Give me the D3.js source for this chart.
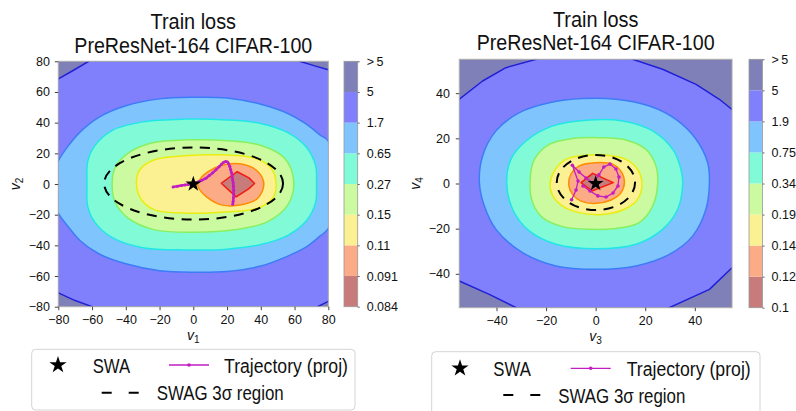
<!DOCTYPE html>
<html>
<head>
<meta charset="utf-8">
<script src="https://cdn.jsdelivr.net/npm/d3@7"></script>
<style>
    body { margin: 0; background: #fff; }
    text { font-family: "Liberation Sans", Arial, sans-serif; fill: #111; }
</style>
</head>
<body>
<div id="chart"></div>
<script>

// ---- data ----

// fill colours of the 8 loss bands, lowest -> highest, and the line colour of each level
var bandColors = ["#c77b7b", "#fbab86", "#fbf192", "#cbfaa0", "#80fad7", "#80c4fe", "#8080fd", "#8080b9"];
var lineColors = ["#f31a10", "#ff8c00", "#e8ee10", "#88f060", "#22e6e6", "#3d7cf7", "#2020d8"];

var leftLevelLabels = ["0.084", "0.091", "0.11", "0.15", "0.27", "0.65", "1.7", "5", ">\u20095"];
var rightLevelLabels = ["0.1", "0.12", "0.14", "0.19", "0.34", "0.75", "1.9", "5", ">\u20095"];

var leftTicks = [-80, -60, -40, -20, 0, 20, 40, 60, 80];
var rightTicks = [-40, -20, 0, 20, 40];

// contour lines, left panel (v1, v2)
var leftLine0091 = [[16.6,0.5],[26,8],[33,4],[36.3,0.3],[33,-3],[25.4,-8.4]];
var leftLine011 = [[2.5,0],[5,4.5],[9,8.3],[16.6,12.1],[28.4,13],[38.2,8.2],[41.8,0],[38.2,-9.3],[28.4,-13.6],[16.6,-13.6],[8,-8.5],[4,-4]];
var leftLine015 = [[-33.7,0],[-31.7,9.3],[-22.9,15.8],[-3.2,18.6],[16.6,19],[36.3,16.9],[46.1,10.3],[49.1,0],[47.1,-9.3],[38.2,-15.8],[16.6,-18.4],[-3.2,-19],[-22.9,-16.9],[-30.7,-10.3]];
var leftLine027 = [[-48.1,0],[-46.5,10.3],[-38.6,20.1],[-24.8,26.7],[-3.2,28.8],[20.5,28.2],[40.2,25.1],[54,16.9],[59.5,1.6],[56,-13.6],[44.1,-24.5],[24.4,-29.9],[0.8,-31.5],[-22.9,-29.9],[-38.6,-22.3],[-46.5,-11.4]];
var leftLine065 = [[-63,0],[-62.5,-15],[-58.3,-25],[-48,-35],[-30,-41.5],[-5,-43],[20,-42.5],[40,-39.5],[56,-33.5],[67,-24],[72.5,-12],[73,0],[72.5,12],[67,24],[56,33.5],[40,39.5],[20,41.8],[-5,42.3],[-30,40.5],[-48,35],[-58.3,25],[-62.5,15]];
var leftLine17 = [[0,56.5],[20,56],[40,52],[56,46],[67,39],[75,32],[80,28],[86,0],[80,-29],[75,-34],[67,-41],[56,-47],[40,-53.5],[20,-57],[0,-57.5],[-20,-56.5],[-40,-52],[-56,-45.5],[-67,-37],[-74,-28],[-80,-19],[-86,-2],[-80,15],[-74,25],[-67,34],[-56,43.5],[-40,51],[-20,55.5]];
var leftLine5 = [[-86,64],[-80,68.5],[-72,73.5],[-62,80],[-58,86],[60,86],[63,80],[72,77],[80,74.5],[86,72],[86,-74],[80,-76.5],[73.7,-80],[70,-86],[-58,-86],[-60,-80],[-70,-76],[-80,-71],[-86,-67]];

// contour lines, right panel (v3, v4)
var rightLine012 = [[-5.9,0.4],[-1.2,4.5],[7.1,0.4],[-1.5,-3.3]];
var rightLine014 = [[-10.9,-0.4],[-10,4.1],[-6.6,7.8],[0.1,9.2],[6.9,8.5],[10.2,5.5],[11.6,0.4],[10.2,-4.1],[6.2,-7.3],[0.1,-8.8],[-5.9,-7.8],[-9.3,-4.8]];
var rightLine019 = [[-18.4,-0.4],[-16.7,5.5],[-12,10.7],[-3.9,12.5],[4.2,12.5],[12.2,10.7],[16.9,6.3],[18.7,-0.4],[16.9,-7],[11.6,-11.4],[2.8,-13.7],[-6.6,-12.9],[-13.3,-10],[-17.3,-5.5]];
var rightLine034 = [[-26.5,0.4],[-24.7,10.7],[-18.7,17.3],[-9.3,19.9],[1.5,20.3],[12.2,19.3],[20.3,15.1],[24.3,7.8],[25,-0.4],[23,-10],[17.6,-17.3],[8.2,-19.9],[-2.6,-20.3],[-13.3,-19.1],[-21.4,-15.1],[-25.4,-8.5]];
var rightLine075 = [[-35.9,0.4],[-34.2,10.7],[-28.1,18.8],[-17.3,25.5],[-2.6,28.1],[10.9,27.7],[23,23.3],[31.1,15.1],[34.4,6.3],[35.1,-0.4],[33.1,-11.4],[27,-20.3],[16.3,-26.9],[0.1,-28.9],[-16,-26.9],[-26.8,-21],[-33.5,-11.4]];
var rightLine19 = [[-46.9,0.4],[-45.6,12.2],[-40.2,23.3],[-30.8,31.4],[-18.7,35.8],[-5.2,37.6],[8.2,37.3],[21.7,34.3],[32.4,28.4],[40.5,19.6],[45.2,9.2],[45.9,0.4],[44.5,-11.4],[39.1,-23.3],[29.7,-31.4],[16.3,-36.5],[0.1,-38],[-16,-36.5],[-29.5,-30.6],[-40.2,-20.3],[-44.9,-10]];
var rightLine5 = [[-60,33.5],[-55,37.3],[-45.6,45.4],[-36.2,51.3],[-24,55],[-22,60],[13,60],[14.9,55],[27,50.6],[40.5,43.9],[49.9,37.3],[55,32.8],[60,28],[60,-33],[55,-37.3],[45.9,-46.9],[29.7,-55],[28,-60],[-30,-60],[-32.1,-55],[-42.9,-49.1],[-55,-43.2],[-60,-40]];

// projected SGD trajectories
var leftTrajectory = [[-12,-1.9],[-9.5,-1.5],[-7,-1],[-5,-0.6],[-3,-0.3],[-1,0],[1,0.6],[3,1.4],[5,2.4],[7.5,3.8],[9.5,5.5],[11.5,7.3],[13.5,9.3],[15.3,11.3],[16.8,13],[18,14.1],[19.2,14.6],[20.3,14.3],[21,13.2],[21.6,11.5],[22.1,9.5],[22.6,7.5],[23,5.2],[23.3,3],[23.6,0.8],[23.8,-1.5],[23.9,-4],[23.9,-6.5],[23.8,-9],[23.6,-11.2],[23.4,-13.2]];
var rightTrajectory = [[-9.7,-7.2],[-7.9,-2.9],[-7.1,1.1],[-9.4,8.1],[-6.7,5.1],[-3.9,2.4],[-1.1,0.2],[1.3,3.8],[3.3,7.3],[5.8,8.6],[8.2,6.4],[9.4,2.9],[9,-1.1],[7,-4.2],[4.2,-6],[0.9,-5.5],[-2.3,-3.3],[-5.1,-1.1]];

// SWAG 3-sigma ellipse: centre x, centre y, radius x, radius y
var leftSwag = [0.2, 0.3, 53, 23.5];
var rightSwag = [0.1, 0.45, 15.8, 12.2];

var swaPoint = [0, 0];


/*
 * ContourPanel - one loss-surface plane with colourbar and legend
 */

ContourPanel = function(_svg, _config){
    this.svg = _svg;
    this.config = _config;

    this.initVis();
}

ContourPanel.prototype.initVis = function(){
    var vis = this;
    var c = vis.config;

    vis.x = d3.scaleLinear().domain(c.domain).range([c.left, c.right]);
    vis.y = d3.scaleLinear().domain(c.domain).range([c.bottom, c.top]);

    vis.g = vis.svg.append("g");

    vis.g.append("clipPath")
        .attr("id", c.id + "-clip")
        .append("rect")
        .attr("x", c.left).attr("y", c.top)
        .attr("width", c.right - c.left)
        .attr("height", c.bottom - c.top);

    vis.plot = vis.g.append("g")
        .attr("clip-path", "url(#" + c.id + "-clip)");

    vis.updateVis();
}

ContourPanel.prototype.updateVis = function(){
    var vis = this;
    var c = vis.config;

    // background = highest band
    vis.plot.append("rect")
        .attr("x", c.left).attr("y", c.top)
        .attr("width", c.right - c.left)
        .attr("height", c.bottom - c.top)
        .attr("fill", bandColors[7]);

    var line = d3.line()
        .x(function(d) { return vis.x(d[0]); })
        .y(function(d) { return vis.y(d[1]); });

    // filled contours, outermost first
    for (var i = c.lines.length - 1; i >= 0; i--) {
        var smooth = (i > 0 && i < c.lines.length - 1);
        line.curve(smooth ? d3.curveCatmullRomClosed.alpha(0.5) : d3.curveLinearClosed);
        vis.plot.append("path")
            .attr("d", line(c.lines[i]))
            .attr("fill", bandColors[i])
            .attr("stroke", lineColors[i])
            .attr("stroke-width", 1.5)
            .attr("stroke-linejoin", "round");
    }

    // SWAG region
    vis.plot.append("ellipse")
        .attr("cx", vis.x(c.swag[0]))
        .attr("cy", vis.y(c.swag[1]))
        .attr("rx", vis.x(c.swag[2]) - vis.x(0))
        .attr("ry", vis.y(0) - vis.y(c.swag[3]))
        .attr("fill", "none")
        .attr("stroke", "#000")
        .attr("stroke-width", 2)
        .attr("stroke-dasharray", "10,7.5");

    // trajectory
    line.curve(d3.curveLinear);
    vis.plot.append("path")
        .attr("d", line(c.trajectory))
        .attr("fill", "none")
        .attr("stroke", "#c21cc2")
        .attr("stroke-width", c.trajWidth);

    vis.plot.selectAll("circle.traj")
        .data(c.trajectory)
        .enter().append("circle")
        .attr("class", "traj")
        .attr("cx", function(d) { return vis.x(d[0]); })
        .attr("cy", function(d) { return vis.y(d[1]); })
        .attr("r", c.markerR)
        .attr("fill", "#c21cc2");

    // SWA solution
    vis.plot.append("path")
        .attr("d", d3.symbol().type(d3.symbolStar).size(78)())
        .attr("transform", "translate(" + vis.x(swaPoint[0]) + "," + vis.y(swaPoint[1]) + ")")
        .attr("fill", "#000");

    // frame
    vis.g.append("rect")
        .attr("x", c.left).attr("y", c.top)
        .attr("width", c.right - c.left)
        .attr("height", c.bottom - c.top)
        .attr("fill", "none")
        .attr("stroke", "#a8a8a8")
        .attr("stroke-width", 1);

    // axes
    var xAxis = d3.axisBottom(vis.x).tickValues(c.ticks).tickSize(3.5).tickPadding(5);
    var yAxis = d3.axisLeft(vis.y).tickValues(c.ticks).tickSize(3.5).tickPadding(c.yPad);

    var gx = vis.g.append("g")
        .attr("transform", "translate(0," + c.bottom + ")")
        .call(xAxis);
    var gy = vis.g.append("g")
        .attr("transform", "translate(" + c.left + ",0)")
        .call(yAxis);

    [gx, gy].forEach(function(ax) {
        ax.select(".domain").remove();
        ax.selectAll(".tick line").attr("stroke", "#444");
        ax.selectAll("text")
            .attr("font-family", "Liberation Sans, Arial, sans-serif")
            .attr("font-size", 12.5)
            .attr("fill", "#111");
    });

    // axis labels
    var xl = vis.g.append("text")
        .attr("x", (c.left + c.right) / 2)
        .attr("y", c.bottom + 33)
        .attr("text-anchor", "middle")
        .attr("font-size", 14);
    xl.append("tspan").attr("font-style", "italic").text("v");
    xl.append("tspan").attr("font-size", 10).attr("dy", 3).text(c.xName);

    var yl = vis.g.append("text")
        .attr("transform", "translate(" + c.yLabelX + "," + (c.top + c.bottom) / 2 + ") rotate(-90)")
        .attr("text-anchor", "middle")
        .attr("font-size", 14);
    yl.append("tspan").attr("font-style", "italic").text("v");
    yl.append("tspan").attr("font-size", 10).attr("dy", 3).text(c.yName);

    // title
    var cx = (c.left + c.right) / 2;
    vis.g.append("text")
        .attr("x", cx).attr("y", c.titleY)
        .attr("text-anchor", "middle")
        .attr("font-size", 22)
        .attr("textLength", 85.5)
        .attr("lengthAdjust", "spacingAndGlyphs")
        .text("Train loss");
    vis.g.append("text")
        .attr("x", cx).attr("y", c.titleY + 23.7)
        .attr("text-anchor", "middle")
        .attr("font-size", 22)
        .attr("textLength", 238)
        .attr("lengthAdjust", "spacingAndGlyphs")
        .text("PreResNet-164 CIFAR-100");

    vis.drawColorbar();
    vis.drawLegend();
}

ContourPanel.prototype.drawColorbar = function(){
    var vis = this;
    var c = vis.config;

    var cy = d3.scaleLinear().domain([0, 8]).range([c.bottom, c.top]);

    vis.g.selectAll("rect.band")
        .data(bandColors)
        .enter().append("rect")
        .attr("class", "band")
        .attr("x", c.cbX)
        .attr("y", function(d, i) { return cy(i + 1); })
        .attr("width", c.cbW)
        .attr("height", function(d, i) { return cy(i) - cy(i + 1); })
        .attr("fill", function(d) { return d; });

    vis.g.append("rect")
        .attr("x", c.cbX).attr("y", c.top)
        .attr("width", c.cbW).attr("height", c.bottom - c.top)
        .attr("fill", "none")
        .attr("stroke", "#999")
        .attr("stroke-width", 0.8);

    var cbAxis = d3.axisRight(cy)
        .tickValues(d3.range(9))
        .tickFormat(function(i) { return c.levelLabels[i]; })
        .tickSize(2)
        .tickPadding(7);

    var ga = vis.g.append("g")
        .attr("transform", "translate(" + (c.cbX + c.cbW) + ",0)")
        .call(cbAxis);
    ga.select(".domain").remove();
    ga.selectAll(".tick line").attr("stroke", "#666");
    ga.selectAll("text")
        .attr("font-family", "Liberation Sans, Arial, sans-serif")
        .attr("font-size", 12.5)
        .attr("fill", "#111");
}

ContourPanel.prototype.legendText = function(x, y, width, str){
    var vis = this;
    vis.g.append("text")
        .attr("x", x).attr("y", y)
        .attr("font-size", 20)
        .attr("textLength", width)
        .attr("lengthAdjust", "spacingAndGlyphs")
        .text(str);
}

ContourPanel.prototype.drawLegend = function(){
    var vis = this;
    var L = vis.config.legend;

    vis.g.append("rect")
        .attr("x", L.x).attr("y", L.y)
        .attr("width", L.w).attr("height", L.h)
        .attr("rx", 4)
        .attr("fill", "#fff")
        .attr("stroke", "#d4d4d4")
        .attr("stroke-width", 1);

    vis.g.append("path")
        .attr("d", d3.symbol().type(d3.symbolStar).size(92)())
        .attr("transform", "translate(" + L.starX + "," + L.row1 + ")")
        .attr("fill", "#000");

    vis.legendText(L.swaX, L.row1 + 7.5, 37.5, "SWA");

    vis.g.append("line")
        .attr("x1", L.trajX).attr("x2", L.trajX + 40)
        .attr("y1", L.row1).attr("y2", L.row1)
        .attr("stroke", "#c21cc2")
        .attr("stroke-width", 1.3);
    vis.g.append("circle")
        .attr("cx", L.trajX + 20).attr("cy", L.row1)
        .attr("r", 1.8)
        .attr("fill", "#c21cc2");

    vis.legendText(L.trajTextX, L.row1 + 7.5, 124, "Trajectory (proj)");

    vis.g.append("line")
        .attr("x1", L.dashX).attr("x2", L.dashX + 37)
        .attr("y1", L.row2).attr("y2", L.row2)
        .attr("stroke", "#000")
        .attr("stroke-width", 2)
        .attr("stroke-dasharray", "10,17");

    vis.legendText(L.swagTextX, L.row2 + 7.5, 127, "SWAG 3\u03c3 region");
}


var svg = d3.select("#chart").append("svg")
    .attr("width", 796)
    .attr("height", 411);

new ContourPanel(svg, {
    id: "left",
    domain: [-80, 80],
    left: 58.3, right: 328.3, top: 61.3, bottom: 306.7,
    ticks: leftTicks,
    yPad: 4.8,
    lines: [leftLine0091, leftLine011, leftLine015, leftLine027, leftLine065, leftLine17, leftLine5],
    swag: leftSwag,
    trajectory: leftTrajectory,
    trajWidth: 2.4, markerR: 1.5,
    xName: "1", yName: "2", yLabelX: 19.5,
    titleY: 29.3,
    cbX: 344, cbW: 13.7,
    levelLabels: leftLevelLabels,
    legend: { x: 31.7, y: 349.3, w: 323.3, h: 60.7, row1: 365, row2: 392.7,
              starX: 58, swaX: 92.7, trajX: 169, trajTextX: 224, dashX: 101.7, swagTextX: 156.7 }
});

new ContourPanel(svg, {
    id: "right",
    domain: [-55, 55],
    left: 459.3, right: 732, top: 59.3, bottom: 307.7,
    ticks: rightTicks,
    yPad: 5.8,
    lines: [rightLine012, rightLine014, rightLine019, rightLine034, rightLine075, rightLine19, rightLine5],
    swag: rightSwag,
    trajectory: rightTrajectory,
    trajWidth: 1.3, markerR: 1.8,
    xName: "3", yName: "4", yLabelX: 419.5,
    titleY: 26.7,
    cbX: 749, cbW: 13.5,
    levelLabels: rightLevelLabels,
    legend: { x: 431.7, y: 351.7, w: 328.3, h: 64, row1: 368.3, row2: 395,
              starX: 460, swaX: 493.3, trajX: 570.7, trajTextX: 626.7, dashX: 503.3, swagTextX: 558.3 }
});

</script>
</body>
</html>
